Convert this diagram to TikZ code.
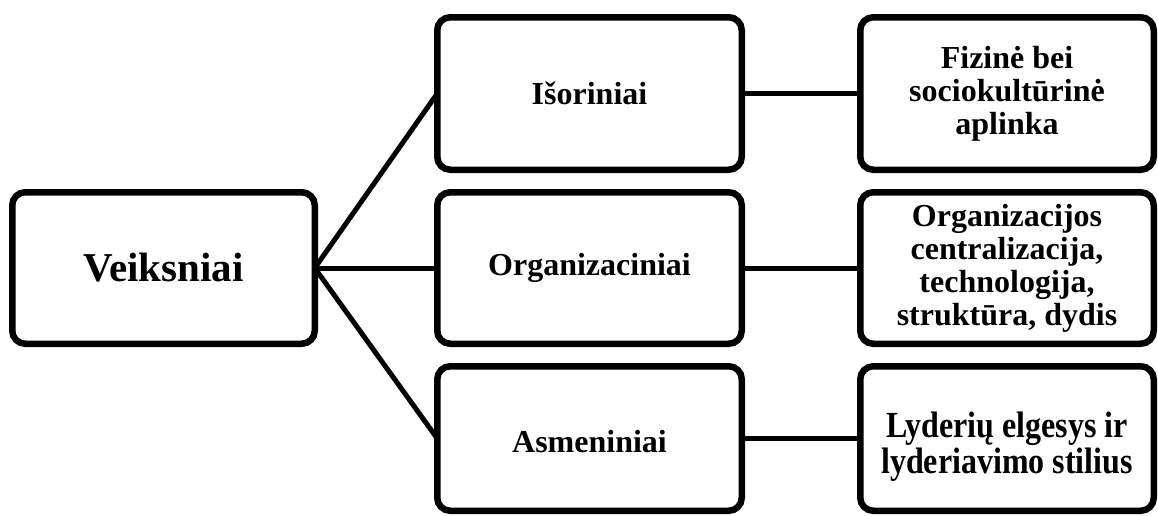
\documentclass[tikz,border=0pt]{standalone}
\usepackage{fontspec}
\usepackage{graphicx}
\setmainfont{Liberation Serif}
\begin{document}
\begin{tikzpicture}[x=1pt,y=-1pt,
  box/.style={draw=black, line width=6.5pt, rounded corners=13pt, fill=white,
    inner sep=0pt, outer sep=0pt, align=center,
    font=\bfseries\fontsize{32}{33}\selectfont},
  midbox/.style={box, minimum width=304.5pt},
  sidebox/.style={box, minimum width=293.5pt},
  rowA/.style={minimum height=152.5pt},
  rowB/.style={minimum height=151.5pt},
  rowC/.style={minimum height=144.5pt},
  link/.style={draw=black, line width=5pt}]
\useasboundingbox[fill=white] (0,0) rectangle (1158,515);

% root factor
\node[box, minimum width=302.5pt, minimum height=151.5pt,
  font=\bfseries\fontsize{41}{43}\selectfont] (root) at (163.5,268) {Veiksniai};

% factor groups
\node[midbox, rowA] (ext) at (589.5,93.5) {Išoriniai};
\node[midbox, rowB] (org) at (589.5,268) {Organizaciniai};
\node[midbox, rowC] (per) at (589.5,438.5) {\raisebox{-3pt}[\height][\depth]{Asmeniniai}};

% examples of each group
\node[sidebox, rowA] (extx) at (1007,93.5) {Fizinė bei\\sociokultūrinė\\aplinka};
\node[sidebox, rowB] (orgx) at (1007,268) {Organizacijos\\centralizacija,\\technologija,\\struktūra, dydis};
\node[sidebox, rowC] (perx) at (1007,438.5) {\raisebox{-9pt}[\height][\depth]{%
  \scalebox{1}[1.15]{\fontsize{32}{28.7}\selectfont
  \begin{tabular}{@{}c@{}}Lyderių elgesys ir\\lyderiavimo stilius\end{tabular}}}};

% connectors
\draw[link] (root.east) -- (ext.west);
\draw[link] (root.east) -- (org.west);
\draw[link] (root.east) -- (per.west);
\draw[link] (ext.east) -- (extx.west);
\draw[link] (org.east) -- (orgx.west);
\draw[link] (per.east) -- (perx.west);
\end{tikzpicture}
\end{document}
